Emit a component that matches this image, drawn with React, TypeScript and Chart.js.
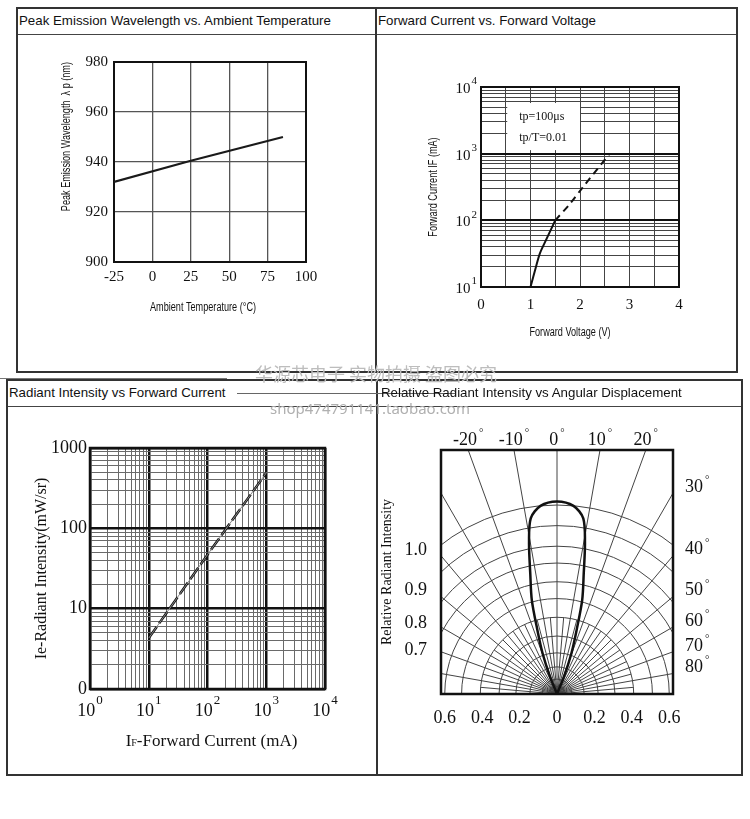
import React, { useEffect, useRef } from 'react';
import { Chart, registerables } from 'chart.js';

Chart.register(...registerables);

const SERIF = "'Liberation Serif', 'Times New Roman', serif";
const SANS = "'Liberation Sans', Arial, sans-serif";
const INK = '#111';

// ---------- Chart 1: Peak Emission Wavelength vs. Ambient Temperature
const TEMP_C = [-25, 25, 85];
const PEAK_NM = [932, 940.5, 950];
const TEMP_TICKS = [-25, 0, 25, 50, 75, 100];
const WAVE_TICKS = [900, 920, 940, 960, 980];
const TEMP_X_TITLE = 'Ambient Temperature (°C)';
const TEMP_Y_TITLE = 'Peak Emission Wavelength  λ p (nm)';

// ---------- Chart 2: Forward Current vs. Forward Voltage
const VF_SOLID = [1.0, 1.11, 1.19, 1.31, 1.5];
const IF_SOLID = [10, 20, 32, 50, 100];
const VF_DASHED = [1.5, 1.8, 2.06, 2.6];
const IF_DASHED = [100, 178, 316, 1000];
const VOLT_TICKS = [0, 0.5, 1, 1.5, 2, 2.5, 3, 3.5, 4];
const IF_DECADES = [10, 100, 1000, 10000];
const IF_EXPONENTS = ['1', '2', '3', '4'];
const NOTE_LINES = ['tp=100μs', 'tp/T=0.01'];
const NOTE_BOX_V = [0.53, 2.0];
const NOTE_BOX_MA = [1130, 5750];
const IV_X_TITLE = 'Forward Voltage (V)';
const IV_Y_TITLE = 'Forward Current IF (mA)';

// ---------- Chart 3: Radiant Intensity vs Forward Current
const IF_MA = [10, 100, 1000];
const IE_MWSR = [4.3, 47, 490];
const CUR_DECADES = [1, 10, 100, 1000, 10000];
const CUR_EXPONENTS = ['0', '1', '2', '3', '4'];
const IE_DECADES = [1, 10, 100, 1000];
const IE_LABELS = ['0', '10', '100', '1000'];
const MANTISSAS = [1, 2, 3, 4, 5, 6, 7, 8, 9];

// ---------- Chart 4: Relative Radiant Intensity vs Angular Displacement
const LOBE_ANGLE = [-23, -22, -19.5, -17, -15, -12.5, -10.5, -8.5, -5, 0, 5, 8.5, 10.5, 12.5, 15, 17, 19.5, 22, 23];
const LOBE_INTENSITY = [0, 0.1, 0.23, 0.36, 0.52, 0.66, 0.82, 0.95, 1.01, 1.03, 1.01, 0.95, 0.82, 0.66, 0.52, 0.36, 0.23, 0.1, 0];
const ARC_RADII = [0.04, 0.08, 0.145, 0.22, 0.31, 0.41, 0.51, 0.6, 0.7, 0.79, 0.9, 1.01];
const SPOKE_ANGLES = [-80, -70, -60, -50, -40, -30, -20, -10, 0, 10, 20, 30, 40, 50, 60, 70, 80];
const FINE_SPOKE_ANGLES = [-85, -75, -65, -55, -45, -35, -25, -15, -5, 5, 15, 25, 35, 45, 55, 65, 75, 85];
const FINE_SPOKE_REACH = 0.41;
const TOP_ANGLE_LABELS = [-20, -10, 0, 10, 20];
const SIDE_ANGLE_LABELS = [30, 40, 50, 60, 70, 80];
const BOTTOM_TICKS = [-0.6, -0.4, -0.2, 0, 0.2, 0.4, 0.6];
const LEFT_LABELS = ['0.7', '0.8', '0.9', '1.0'];
const LEFT_LABEL_POS = [0.235, 0.38, 0.556, 0.77];

// ---------- helpers
const isDecade = (v: number) => Math.abs(Math.log10(v) - Math.round(Math.log10(v))) < 1e-9;
const logGrid = (decades: number[]) =>
  decades.slice(0, -1).flatMap((d) => MANTISSAS.map((m) => m * d)).concat(decades[decades.length - 1]);
const asTicks = (vals: number[]) => (s: any) => {
  s.ticks = vals.map((value) => ({ value }));
};

const frame = (width: number) => ({
  id: 'frame',
  beforeDatasetsDraw(chart: any) {
    const { ctx, chartArea: a } = chart;
    ctx.save();
    ctx.strokeStyle = INK;
    ctx.lineWidth = width;
    ctx.strokeRect(a.left, a.top, a.right - a.left, a.bottom - a.top);
    ctx.restore();
  },
});

// condensed sans text (the datasheet uses a narrow face)
function drawCondensed(ctx: any, text: string, x: number, y: number, rotation: number, align: string) {
  ctx.save();
  ctx.translate(x, y);
  ctx.rotate(rotation);
  ctx.scale(0.76, 1);
  ctx.font = `12px ${SANS}`;
  ctx.fillStyle = INK;
  ctx.textAlign = align;
  ctx.textBaseline = 'middle';
  ctx.fillText(text, 0, 0);
  ctx.restore();
}

const axisTitles = (xTitle: string, xShift: number, xDrop: number, yTitle: string, yGap: number, yAlign: string) => ({
  id: 'axisTitles',
  afterDraw(chart: any) {
    const { ctx, chartArea: a } = chart;
    drawCondensed(ctx, xTitle, (a.left + a.right) / 2 + xShift, a.bottom + xDrop, 0, 'center');
    if (yAlign === 'end') {
      drawCondensed(ctx, yTitle, a.left - yGap, a.top, -Math.PI / 2, 'right');
    } else {
      drawCondensed(ctx, yTitle, a.left - yGap, (a.top + a.bottom) / 2, -Math.PI / 2, 'center');
    }
  },
});

function drawPower(ctx: any, x: number, cy: number, exp: string, baseSize: number, expSize: number, rise: number, align: string) {
  ctx.font = `${baseSize}px ${SERIF}`;
  const wb = ctx.measureText('10').width;
  ctx.font = `${expSize}px ${SERIF}`;
  const we = ctx.measureText(exp).width;
  const gap = 1;
  const total = wb + gap + we;
  const start = align === 'center' ? x - total / 2 : align === 'right' ? x - total : x;
  ctx.fillStyle = INK;
  ctx.textAlign = 'left';
  ctx.textBaseline = 'middle';
  ctx.font = `${baseSize}px ${SERIF}`;
  ctx.fillText('10', start, cy);
  ctx.font = `${expSize}px ${SERIF}`;
  ctx.fillText(exp, start + wb + gap, cy - rise);
}

function drawDegree(ctx: any, text: string, x: number, cy: number, align: string) {
  ctx.font = `18px ${SERIF}`;
  const wn = ctx.measureText(text).width;
  ctx.font = `11px ${SERIF}`;
  const wd = ctx.measureText('°').width;
  const start = align === 'center' ? x - (wn + 2 + wd) / 2 : x;
  ctx.fillStyle = INK;
  ctx.textAlign = 'left';
  ctx.textBaseline = 'middle';
  ctx.font = `18px ${SERIF}`;
  ctx.fillText(text, start, cy);
  ctx.font = `11px ${SERIF}`;
  ctx.fillText('°', start + wn + 2, cy - 7);
}

const baseOpts = (padding: any) => ({
  responsive: false,
  animation: false,
  events: [],
  layout: { padding },
  plugins: { legend: { display: false }, tooltip: { enabled: false } },
});

const tickFont = (size: number) => ({ family: SERIF, size });

// ---------- chart builders
function buildTemp() {
  return {
    type: 'scatter',
    data: {
      datasets: [
        {
          data: TEMP_C.map((t, i) => ({ x: t, y: PEAK_NM[i] })),
          showLine: true,
          borderColor: '#1a1a1a',
          borderWidth: 2.2,
          pointRadius: 0,
        },
      ],
    },
    options: {
      ...baseOpts({ left: 0, top: 27, right: 69, bottom: 0 }),
      scales: {
        x: {
          type: 'linear',
          min: -25,
          max: 100,
          afterBuildTicks: asTicks(TEMP_TICKS),
          afterFit: (s: any) => { s.height = 109; },
          grid: { color: '#555', lineWidth: 1.3, drawTicks: false },
          border: { display: false },
          ticks: { autoSkip: false, maxRotation: 0, padding: 6, color: INK, font: tickFont(15) },
        },
        y: {
          type: 'linear',
          min: 900,
          max: 980,
          afterBuildTicks: asTicks(WAVE_TICKS),
          afterFit: (s: any) => { s.width = 96; },
          grid: { color: '#555', lineWidth: 1.3, drawTicks: false },
          border: { display: false },
          ticks: { autoSkip: false, padding: 6, color: INK, font: tickFont(15) },
        },
      },
    },
    plugins: [frame(2), axisTitles(TEMP_X_TITLE, -7, 46, TEMP_Y_TITLE, 47, 'end')],
  };
}

function buildIV() {
  const note = {
    id: 'note',
    beforeDatasetsDraw(chart: any) {
      const { ctx, scales } = chart;
      const x1 = scales.x.getPixelForValue(NOTE_BOX_V[0]);
      const x2 = scales.x.getPixelForValue(NOTE_BOX_V[1]);
      const y1 = scales.y.getPixelForValue(NOTE_BOX_MA[1]);
      const y2 = scales.y.getPixelForValue(NOTE_BOX_MA[0]);
      ctx.save();
      ctx.fillStyle = '#fff';
      ctx.fillRect(x1, y1, x2 - x1, y2 - y1);
      ctx.fillStyle = INK;
      ctx.font = `12px ${SERIF}`;
      ctx.textAlign = 'left';
      ctx.textBaseline = 'middle';
      NOTE_LINES.forEach((t, i) => ctx.fillText(t, x1 + 12, y1 + 14 + i * 20.5));
      ctx.restore();
    },
  };
  const yLabels = {
    id: 'yPow',
    afterDraw(chart: any) {
      const { ctx, chartArea, scales } = chart;
      ctx.save();
      IF_DECADES.forEach((v, i) => {
        const y = scales.y.getPixelForValue(v);
        drawPower(ctx, chartArea.left - 4, y + 2, IF_EXPONENTS[i], 15, 11, 7.5, 'right');
      });
      ctx.restore();
    },
  };
  const line = (xs: number[], ys: number[], dash: number[]) => ({
    data: xs.map((x, i) => ({ x, y: ys[i] })),
    showLine: true,
    borderColor: INK,
    borderWidth: 2,
    borderDash: dash,
    pointRadius: 0,
    tension: 0.3,
  });
  return {
    type: 'scatter',
    data: { datasets: [line(VF_SOLID, IF_SOLID, []), line(VF_DASHED, IF_DASHED, [7, 5])] },
    options: {
      ...baseOpts({ left: 0, top: 52, right: 57, bottom: 0 }),
      scales: {
        x: {
          type: 'linear',
          min: 0,
          max: 4,
          afterBuildTicks: asTicks(VOLT_TICKS),
          afterFit: (s: any) => { s.height = 84; },
          grid: { color: '#444', lineWidth: 1, drawTicks: false },
          border: { display: false },
          ticks: {
            autoSkip: false,
            maxRotation: 0,
            padding: 9,
            color: INK,
            font: tickFont(15),
            callback: (v: number) => (Number.isInteger(v) ? String(v) : ''),
          },
        },
        y: {
          type: 'logarithmic',
          min: 10,
          max: 10000,
          afterBuildTicks: asTicks(logGrid(IF_DECADES)),
          afterFit: (s: any) => { s.width = 104; },
          grid: {
            drawTicks: false,
            color: (c: any) => (isDecade(c.tick.value) ? '#111' : '#444'),
            lineWidth: (c: any) => (isDecade(c.tick.value) ? 2 : 1),
          },
          border: { display: false },
          ticks: { display: false, autoSkip: false },
        },
      },
    },
    plugins: [note, frame(2), yLabels, axisTitles(IV_X_TITLE, -10, 46, IV_Y_TITLE, 47, 'center')],
  };
}

function buildRadiant() {
  const xLabels = {
    id: 'xPow',
    afterDraw(chart: any) {
      const { ctx, chartArea, scales } = chart;
      ctx.save();
      CUR_DECADES.forEach((v, i) => {
        const x = scales.x.getPixelForValue(v);
        drawPower(ctx, x, chartArea.bottom + 22, CUR_EXPONENTS[i], 18, 13, 10, 'center');
      });
      // x-axis title with subscript F
      const parts = [
        { t: 'I', s: 17 },
        { t: 'F', s: 10 },
        { t: '-Forward Current (mA)', s: 17 },
      ];
      const widths = parts.map((p) => {
        ctx.font = `${p.s}px ${SERIF}`;
        return ctx.measureText(p.t).width;
      });
      const total = widths.reduce((a, b) => a + b, 0);
      let x = (chartArea.left + chartArea.right) / 2 + 4 - total / 2;
      const base = chartArea.bottom + 57;
      ctx.fillStyle = INK;
      ctx.textAlign = 'left';
      ctx.textBaseline = 'alphabetic';
      parts.forEach((p, i) => {
        ctx.font = `${p.s}px ${SERIF}`;
        ctx.fillText(p.t, x, base);
        x += widths[i];
      });
      ctx.restore();
    },
  };
  const pts = IF_MA.map((x, i) => ({ x, y: IE_MWSR[i] }));
  const gridOpts = {
    drawTicks: false,
    color: (c: any) => (isDecade(c.tick.value) ? '#111' : '#6a6a6a'),
    lineWidth: (c: any) => (isDecade(c.tick.value) ? 2.5 : 1),
  };
  return {
    type: 'scatter',
    data: {
      datasets: [
        { data: pts, showLine: true, borderColor: '#888', borderWidth: 1, pointRadius: 0 },
        { data: pts, showLine: true, borderColor: INK, borderWidth: 2.5, borderDash: [14, 4], pointRadius: 0 },
      ],
    },
    options: {
      ...baseOpts({ left: 0, top: 41, right: 51, bottom: 0 }),
      scales: {
        x: {
          type: 'logarithmic',
          min: 1,
          max: 10000,
          afterBuildTicks: asTicks(logGrid(CUR_DECADES)),
          afterFit: (s: any) => { s.height = 85; },
          grid: gridOpts,
          border: { display: false },
          ticks: { display: false, autoSkip: false },
        },
        y: {
          type: 'logarithmic',
          min: 1,
          max: 1000,
          afterBuildTicks: asTicks(logGrid(IE_DECADES)),
          afterFit: (s: any) => { s.width = 82; },
          grid: gridOpts,
          border: { display: false },
          ticks: {
            autoSkip: false,
            padding: 3,
            color: INK,
            font: tickFont(18),
            callback: (v: number) => {
              const k = IE_DECADES.findIndex((d) => Math.abs(d - v) < 1e-9);
              return k >= 0 ? IE_LABELS[k] : '';
            },
          },
          title: {
            display: true,
            text: 'Ie-Radiant Intensity(mW/sr)',
            color: INK,
            font: { family: SERIF, size: 16 },
            padding: { top: 24, bottom: 0 },
          },
        },
      },
    },
    plugins: [frame(2.5), xLabels],
  };
}

function buildPolar() {
  const polar = {
    id: 'polarGrid',
    beforeDatasetsDraw(chart: any) {
      const { ctx, chartArea: a, scales } = chart;
      const ox = scales.x.getPixelForValue(0);
      const oy = scales.y.getPixelForValue(0);
      const unit = scales.x.getPixelForValue(1) - ox;
      ctx.save();
      ctx.beginPath();
      ctx.rect(a.left, a.top, a.right - a.left, a.bottom - a.top);
      ctx.clip();
      ctx.strokeStyle = '#444';
      ctx.lineWidth = 1;
      ARC_RADII.forEach((r) => {
        ctx.beginPath();
        ctx.arc(ox, oy, r * unit, Math.PI, 2 * Math.PI);
        ctx.stroke();
      });
      const spoke = (deg: number, len: number) => {
        const t = (deg * Math.PI) / 180;
        ctx.beginPath();
        ctx.moveTo(ox, oy);
        ctx.lineTo(ox + len * Math.sin(t), oy - len * Math.cos(t));
        ctx.stroke();
      };
      SPOKE_ANGLES.forEach((d) => spoke(d, 4 * unit));
      FINE_SPOKE_ANGLES.forEach((d) => spoke(d, FINE_SPOKE_REACH * unit));
      ctx.restore();

      ctx.save();
      TOP_ANGLE_LABELS.forEach((d) => {
        const px = ox + (oy - a.top) * Math.tan((d * Math.PI) / 180);
        drawDegree(ctx, String(d), px, a.top - 10, 'center');
      });
      SIDE_ANGLE_LABELS.forEach((d) => {
        const py = oy - (a.right - ox) / Math.tan((d * Math.PI) / 180);
        drawDegree(ctx, String(d), a.right + 12, py - 6, 'left');
      });
      ctx.restore();
    },
  };
  const lobe = LOBE_ANGLE.map((deg, i) => {
    const t = (deg * Math.PI) / 180;
    const r = LOBE_INTENSITY[i];
    return { x: r * Math.sin(t), y: r * Math.cos(t) };
  });
  return {
    type: 'scatter',
    data: {
      datasets: [{ data: lobe, showLine: true, borderColor: INK, borderWidth: 2.5, pointRadius: 0, tension: 0.3 }],
    },
    options: {
      ...baseOpts({ left: 0, top: 43, right: 68, bottom: 0 }),
      scales: {
        x: {
          type: 'linear',
          min: -0.62,
          max: 0.62,
          afterBuildTicks: asTicks(BOTTOM_TICKS),
          afterFit: (s: any) => { s.height = 80; },
          grid: { display: false, drawTicks: false },
          border: { display: false },
          ticks: {
            autoSkip: false,
            maxRotation: 0,
            padding: 13,
            color: INK,
            font: tickFont(18),
            callback: (v: number) => (Math.abs(v) < 1e-9 ? '0' : Math.abs(v).toFixed(1)),
          },
        },
        y: {
          type: 'linear',
          min: 0,
          max: 1.305,
          afterBuildTicks: asTicks(LEFT_LABEL_POS),
          afterFit: (s: any) => { s.width = 63; },
          grid: { display: false, drawTicks: false },
          border: { display: false },
          ticks: {
            autoSkip: false,
            padding: 14,
            color: INK,
            font: tickFont(18),
            callback: (v: number) => {
              const k = LEFT_LABEL_POS.findIndex((p) => Math.abs(p - v) < 1e-9);
              return k >= 0 ? LEFT_LABELS[k] : '';
            },
          },
          title: {
            display: true,
            text: 'Relative Radiant Intensity',
            color: INK,
            font: { family: SERIF, size: 14 },
            padding: { top: 1, bottom: 0 },
          },
        },
      },
    },
    plugins: [polar, frame(2.5)],
  };
}

// ---------- components
function ChartBox({ left, top, width, height, build }: any) {
  const ref = useRef<HTMLCanvasElement>(null);
  useEffect(() => {
    if (!ref.current) return;
    const chart = new Chart(ref.current, build());
    return () => chart.destroy();
  }, []);
  return (
    <canvas
      ref={ref}
      width={width}
      height={height}
      style={{ position: 'absolute', left, top, width, height, display: 'block' }}
    />
  );
}

const Rule = ({ x, y, w, h, c = '#333' }: any) => (
  <div style={{ position: 'absolute', left: x, top: y, width: w, height: h, background: c }} />
);

const Title = ({ x, cy, text }: any) => (
  <div
    style={{
      position: 'absolute',
      left: x,
      top: cy - 8,
      height: 16,
      lineHeight: '16px',
      fontFamily: SANS,
      fontSize: 13.3,
      color: INK,
      whiteSpace: 'nowrap',
    }}
  >
    {text}
  </div>
);

export default function App() {
  return (
    <div
      style={{
        position: 'absolute',
        left: 0,
        top: 0,
        width: 750,
        height: 819,
        background: '#fff',
        overflow: 'hidden',
      }}
    >
      <ChartBox left={18} top={35} width={357} height={336} build={buildTemp} />
      <ChartBox left={377} top={35} width={359} height={336} build={buildIV} />
      <ChartBox left={8} top={407} width={368} height={367} build={buildRadiant} />
      <ChartBox left={378} top={407} width={363} height={367} build={buildPolar} />

      {/* top row frames */}
      <Rule x={16} y={7} w={722} h={2} />
      <Rule x={16} y={33.5} w={722} h={1.2} c="#444" />
      <Rule x={16} y={371} w={722} h={2} />
      <Rule x={16} y={7} w={2} h={366} />
      <Rule x={375} y={7} w={1.5} h={366} />
      <Rule x={736} y={7} w={2} h={366} />
      <Rule x={0} y={377.5} w={227} h={1} c="#777" />

      {/* bottom row frames */}
      <Rule x={6} y={379} w={737} h={2} />
      <Rule x={6} y={405.5} w={737} h={1.2} c="#444" />
      <Rule x={6} y={774} w={737} h={2} />
      <Rule x={6} y={379} w={2} h={397} />
      <Rule x={376} y={379} w={1.5} h={397} />
      <Rule x={741} y={379} w={2} h={397} />
      <Rule x={237} y={393} w={218} h={1} c="#666" />

      <Title x={19} cy={21} text="Peak Emission Wavelength vs. Ambient Temperature" />
      <Title x={378} cy={21} text="Forward Current vs. Forward Voltage" />
      <Title x={9} cy={393} text="Radiant Intensity vs Forward Current" />
      <Title x={381} cy={393} text="Relative Radiant Intensity vs Angular Displacement" />

      {/* watermark */}
      <div
        style={{
          position: 'absolute',
          left: 0,
          width: 752,
          top: 362,
          textAlign: 'center',
          fontFamily: "'Noto Sans CJK SC', sans-serif",
          fontSize: 18,
          lineHeight: '22px',
          color: '#bdbdbd',
          whiteSpace: 'nowrap',
        }}
      >
        华源芯电子 实物拍摄 盗图必究
      </div>
      <div
        style={{
          position: 'absolute',
          left: 270,
          top: 398,
          fontFamily: "'Noto Sans', sans-serif",
          fontSize: 15,
          lineHeight: '20px',
          color: '#b0b0b0',
          whiteSpace: 'nowrap',
        }}
      >
        shop474791141.taobao.com
      </div>
    </div>
  );
}
